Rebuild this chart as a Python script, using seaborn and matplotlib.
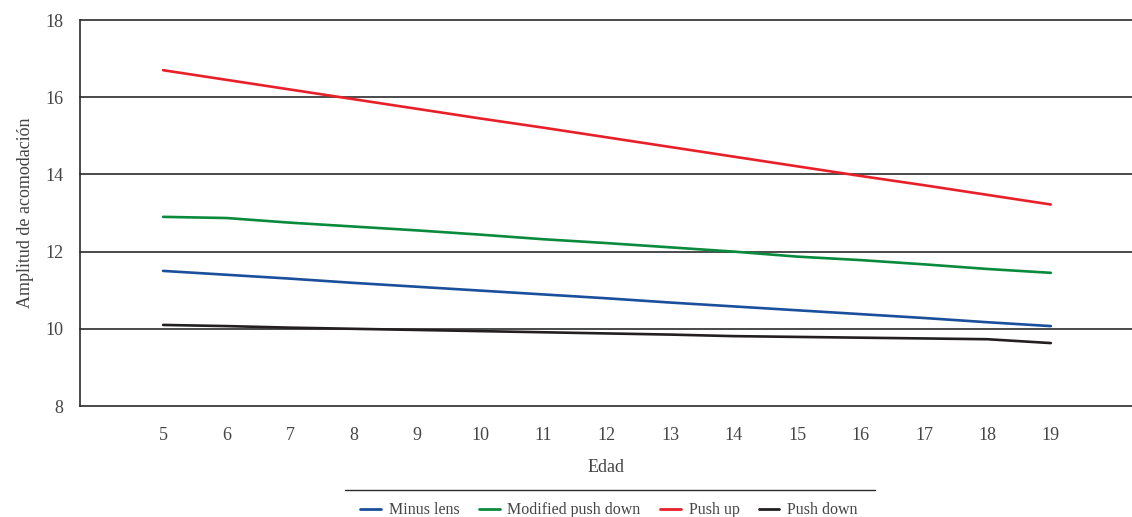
import matplotlib.pyplot as plt
import numpy as np
import pandas as pd
import seaborn as sns
from matplotlib.lines import Line2D

# Data
edad = [5, 6, 7, 8, 9, 10, 11, 12, 13, 14, 15, 16, 17, 18, 19]
minus_lens = [11.50, 11.40, 11.30, 11.19, 11.09, 10.99, 10.89, 10.79,
              10.68, 10.58, 10.48, 10.38, 10.28, 10.17, 10.07]
modified_push_down = [12.90, 12.87, 12.75, 12.65, 12.55, 12.44, 12.32, 12.22,
                      12.11, 12.00, 11.87, 11.78, 11.67, 11.55, 11.45]
push_up = [16.70, 16.45, 16.20, 15.95, 15.70, 15.45, 15.21, 14.96,
           14.71, 14.46, 14.21, 13.96, 13.72, 13.47, 13.22]
push_down = [10.10, 10.07, 10.03, 10.00, 9.97, 9.94, 9.91, 9.88,
             9.85, 9.81, 9.79, 9.77, 9.75, 9.73, 9.63]

series_names = ["Minus lens", "Modified push down", "Push up", "Push down"]
colors = ["#1a4f9c", "#0a8a3c", "#e8202a", "#231f20"]

df = pd.DataFrame({
    "Edad": edad * 4,
    "valor": minus_lens + modified_push_down + push_up + push_down,
    "serie": np.repeat(series_names, len(edad)),
})

sns.set_style("white")
plt.rcParams["font.family"] = ["Liberation Serif", "DejaVu Serif"]
text_color = "#444444"

fig = plt.figure(figsize=(11.32, 5.17), dpi=100)
ax = fig.add_axes([0.0707, 0.2147, 0.9293, 0.7466])

sns.lineplot(data=df, x="Edad", y="valor", hue="serie", hue_order=series_names,
             palette=colors, linewidth=1.9, ax=ax, legend=False)

ax.set_xlim(3.69, 20.28)
ax.set_ylim(8, 18)
ax.set_xticks(edad)
ax.set_yticks([8, 10, 12, 14, 16, 18])
ax.tick_params(axis="both", length=0, labelsize=13, colors=text_color)
ax.tick_params(axis="x", pad=15)
ax.tick_params(axis="y", pad=12)
ax.set_xlabel("Edad", fontsize=13, color=text_color, labelpad=11)
ax.set_ylabel("Amplitud de acomodación", fontsize=13, color=text_color, labelpad=8)

for y in [10, 12, 14, 16, 18]:
    ax.axhline(y, color="#2b2b2b", linewidth=1.2, zorder=0, clip_on=False)

for side in ["top", "right"]:
    ax.spines[side].set_visible(False)
for side in ["left", "bottom"]:
    ax.spines[side].set_color("#2b2b2b")
    ax.spines[side].set_linewidth(1.2)

# Legend below, with a rule above it
handles = [Line2D([0], [0], color=c, linewidth=2.0) for c in colors]
fig.legend(handles, series_names, loc="lower center", bbox_to_anchor=(0.538, -0.03),
           ncol=4, frameon=False, fontsize=11.5, handlelength=1.3, handletextpad=0.5,
           columnspacing=1.2, labelcolor=text_color)
fig.add_artist(Line2D([0.305, 0.773], [0.052, 0.052], color="#2b2b2b",
                      linewidth=1.0, transform=fig.transFigure))

fig.savefig("out.png", dpi=100)
